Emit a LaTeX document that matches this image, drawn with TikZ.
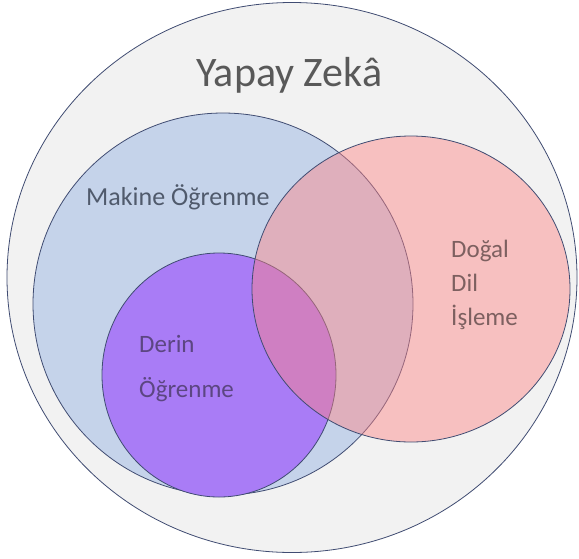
\documentclass[tikz,border=0pt]{standalone}
\usepackage{fontspec}
\setmainfont{Carlito}
\begin{document}
\begin{tikzpicture}[x=1pt,y=-1pt,
  setline/.style={draw=setedge, line width=0.8pt},
  lbl/.style={anchor=base west, inner sep=0pt}]
\definecolor{aifill}{RGB}{242,242,242}
\definecolor{mlfill}{RGB}{197,211,234}
\definecolor{dlfill}{RGB}{169,124,246}
\definecolor{nlpfill}{RGB}{255,132,132}
\definecolor{setedge}{RGB}{64,76,114}
\definecolor{aitext}{RGB}{89,89,89}
\definecolor{mltext}{RGB}{80,90,108}
\definecolor{dltext}{RGB}{92,70,130}
\definecolor{nlptext}{RGB}{125,96,96}
\useasboundingbox (0,0) rectangle (579,558);
\fill[white] (0,0) rectangle (579,558);
% Artificial intelligence (outer set)
\filldraw[fill=aifill, setline] (292,277.5) ellipse [x radius=285, y radius=275];
% Machine learning
\filldraw[fill=mlfill, setline] (223,304) ellipse [x radius=190, y radius=191];
% Deep learning
\filldraw[fill=dlfill, setline] (219,375) ellipse [x radius=117, y radius=122];
% Natural language processing, translucent over the others
\fill[nlpfill, fill opacity=0.45] (411,289) ellipse [x radius=159, y radius=153];
\draw[setline] (411,289) ellipse [x radius=159, y radius=153];
% Labels
\node[lbl, text=aitext, font=\fontsize{42}{50}\selectfont] (ai) at (196,86) {Yapay Zekâ};
\node[lbl, text=mltext, font=\fontsize{26}{31}\selectfont] (ml) at (86,205) {Makine Öğrenme};
\node[lbl, text=dltext, font=\fontsize{25}{30}\selectfont] (dl1) at (139,352) {Derin};
\node[lbl, text=dltext, font=\fontsize{25}{30}\selectfont] (dl2) at (139,397) {Öğrenme};
\node[lbl, text=nlptext, font=\fontsize{25}{30}\selectfont] (nlp1) at (451,257) {Doğal};
\node[lbl, text=nlptext, font=\fontsize{25}{30}\selectfont] (nlp2) at (451,291) {Dil};
\node[lbl, text=nlptext, font=\fontsize{25}{30}\selectfont] (nlp3) at (451,325) {İşleme};
\end{tikzpicture}
\end{document}
